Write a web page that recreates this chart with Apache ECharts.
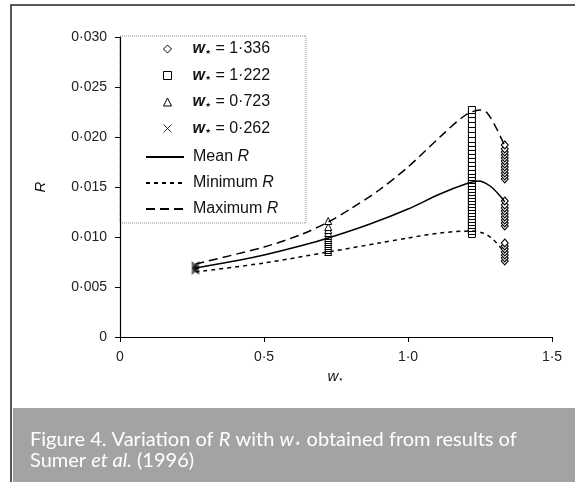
<!DOCTYPE html>
<html><head><meta charset="utf-8">
<script src="https://cdn.jsdelivr.net/npm/echarts@6/dist/echarts.min.js"></script>
<style>html,body{margin:0;padding:0;background:#fff}#c{width:575px;height:482px}</style>
</head><body><div id="c"></div>
<script>
// ---- data ----
const xTicks = [0, 0.5, 1.0, 1.5];
const yTicks = [0, 0.005, 0.010, 0.015, 0.020, 0.025, 0.030];

const wStar = { a: 1.336, b: 1.222, c: 0.723, d: 0.262 };
const r1336 = [0.0076, 0.0079, 0.0082, 0.0085, 0.0088, 0.0091, 0.0094,
               0.0111, 0.0114, 0.0117, 0.0120, 0.0123, 0.0126, 0.0129, 0.0132, 0.0136,
               0.0158, 0.0161, 0.0164, 0.0167, 0.0170, 0.0173, 0.0176, 0.0179, 0.0182, 0.0185, 0.0188, 0.0192];
const r1222 = [0.0103, 0.0106, 0.0109, 0.0112, 0.0115, 0.0118, 0.0121, 0.0124, 0.0127, 0.0130,
               0.0133, 0.0136, 0.0139, 0.0142, 0.0145, 0.0148, 0.0151, 0.0154, 0.0157, 0.0160,
               0.0163, 0.0166, 0.0170, 0.0174, 0.0178, 0.0182, 0.0186, 0.0190, 0.0194, 0.0198,
               0.0203, 0.0208, 0.0213, 0.0218, 0.0223, 0.0227];
const r0723 = [0.0085, 0.0087, 0.0089, 0.0091, 0.0093, 0.0095, 0.0097, 0.0099, 0.0101, 0.0104, 0.0107, 0.0110, 0.0116];
const r0262 = [0.0066, 0.0067, 0.0068, 0.0069, 0.0070, 0.0071, 0.0072];

const meanX = [0.262, 0.417, 0.5, 0.625, 0.723, 0.868, 1.0, 1.111, 1.2, 1.245, 1.285, 1.320, 1.336];
const meanR = [0.0069, 0.0077, 0.0082, 0.0091, 0.0099, 0.0113, 0.0128, 0.0143, 0.0153, 0.0156, 0.0151, 0.0141, 0.0135];
const minX  = [0.262, 0.5, 0.723, 0.9, 1.0, 1.111, 1.222, 1.26, 1.29, 1.32, 1.336];
const minR  = [0.0065, 0.0074, 0.0085, 0.0094, 0.0099, 0.0104, 0.0106, 0.0104, 0.0099, 0.0090, 0.0084];
const maxX  = [0.262, 0.5, 0.625, 0.723, 0.8, 0.9, 1.0, 1.111, 1.2, 1.25, 1.275, 1.31, 1.336];
const maxR  = [0.0073, 0.0090, 0.0102, 0.0115, 0.0128, 0.0147, 0.0170, 0.0200, 0.0222, 0.0227, 0.0224, 0.0207, 0.0191];

const legendLabels = {
  s1336: '{sp|}{w|w}{s|⋆} = 1·336',
  s1222: '{sp|}{w|w}{s|⋆} = 1·222',
  s0723: '{sp|}{w|w}{s|⋆} = 0·723',
  s0262: '{sp|}{w|w}{s|⋆} = 0·262',
  mean: '{sp2|}Mean {i|R}',
  min: '{sp2|}Minimum {i|R}',
  max: '{sp2|}Maximum {i|R}'
};

// ---- chart ----
const fmt = v => v === 0 ? '0' : String(v.toFixed(v < 0.1 ? 3 : 1)).replace('.', '·');
const pts = (x, arr) => arr.map(r => [x, r]);
const zip = (xs, ys) => xs.map((x, i) => [x, ys[i]]);
const FONT = '"Liberation Sans", Arial, sans-serif';

const marker = (name, symbol, size, data) => ({
  name, type: 'scatter', symbol, symbolSize: size, data,
  itemStyle: { color: '#fff', borderColor: '#000', borderWidth: 1, opacity: 1 },
  z: 3
});
const curve = (name, dash, data) => ({
  name, type: 'line', data, smooth: 0.3, symbol: 'none',
  lineStyle: { color: '#000', width: 1.5, type: dash },
  itemStyle: { color: '#000' }, z: 4
});
const legendText = {
  fontFamily: FONT, fontSize: 16, color: '#111',
  rich: { w: { fontWeight: 'bold', fontStyle: 'italic', fontSize: 16, fontFamily: FONT },
          s: { fontWeight: 'bold', fontSize: 10, fontFamily: FONT, verticalAlign: 'bottom' },
          i: { fontStyle: 'italic', fontSize: 16, fontFamily: FONT },
          sp: { width: 16 }, sp2: { width: 4 } }
};
const hidden = { color: 'rgba(0,0,0,0)', borderColor: 'rgba(0,0,0,0)', borderWidth: 0 };

const chart = echarts.init(document.getElementById('c'), null, { renderer: 'canvas' });
chart.setOption({
  animation: false,
  backgroundColor: '#fff',
  grid: { left: 120, right: 23, top: 37, bottom: 145 },
  xAxis: {
    type: 'value', min: 0, max: 1.5, interval: 0.5,
    name: '{i|w}{s|⋆}', nameLocation: 'middle', nameGap: 30,
    nameTextStyle: { fontFamily: FONT, fontSize: 15, color: '#111',
      rich: { i: { fontStyle: 'italic', fontSize: 15, fontFamily: FONT },
              s: { fontSize: 9, fontFamily: FONT, verticalAlign: 'bottom' } } },
    axisLine: { lineStyle: { color: '#000', width: 1.2 } },
    axisTick: { show: true, length: 5, lineStyle: { color: '#000' } },
    axisLabel: { formatter: v => fmt(v), fontFamily: FONT, fontSize: 14, color: '#222', margin: 13 },
    splitLine: { show: false }
  },
  yAxis: {
    type: 'value', min: 0, max: 0.03, interval: 0.005,
    name: 'R', nameLocation: 'middle', nameGap: 72,
    nameTextStyle: { fontFamily: FONT, fontSize: 15, fontStyle: 'italic', color: '#111' },
    axisLine: { show: true, lineStyle: { color: '#000', width: 1.2 } },
    axisTick: { show: true, length: 5, lineStyle: { color: '#000' } },
    axisLabel: { formatter: v => fmt(v), fontFamily: FONT, fontSize: 14, color: '#222', margin: 13 },
    splitLine: { show: false }
  },
  legend: [
    { orient: 'vertical', left: 161, top: 41, padding: 0,
      itemWidth: 8, itemHeight: 8, itemGap: 10.5,
      data: ['s1336', 's1222', 's0723', 's0262'],
      formatter: n => legendLabels[n],
      itemStyle: { borderWidth: 1 },
      textStyle: legendText },
    { orient: 'vertical', left: 145, top: 149, padding: 0,
      itemWidth: 38, itemHeight: 8, itemGap: 10,
      data: [{ name: 'mean', itemStyle: hidden }, { name: 'min', itemStyle: hidden }, { name: 'max', itemStyle: hidden }],
      formatter: n => legendLabels[n],
      textStyle: legendText }
  ],
  series: [
    marker('s1336', 'diamond', [7, 8], pts(wStar.a, r1336)),
    marker('s1222', 'rect', 7, pts(wStar.b, r1222)),
    marker('s0723', 'triangle', 7, pts(wStar.c, r0723)),
    Object.assign(marker('s0262', 'path://M0,0L10,10M10,0L0,10', 7, pts(wStar.d, r0262)),
      { itemStyle: { color: 'none', borderColor: '#000', borderWidth: 1 } }),
    curve('mean', 'solid', zip(meanX, meanR)),
    curve('min', [4, 4], zip(minX, minR)),
    curve('max', [9, 5], zip(maxX, maxR))
  ],
  graphic: [
    { type: 'rect', z: -10, silent: true,
      shape: { x: 11, y: 5, width: 620, height: 520 },
      style: { fill: 'none', stroke: '#222', lineWidth: 1.5 } },
    { type: 'rect', z: -5, silent: true, shape: { x: 120, y: 36, width: 186, height: 187 },
      style: { fill: 'none', stroke: '#888', lineWidth: 1, lineDash: [1, 1] } },
    { type: 'rect', z: -5, silent: true, shape: { x: 13, y: 408, width: 570, height: 80 },
      style: { fill: '#a3a3a3' } },
    { type: 'text', z: 10, silent: true, x: 30, y: 429,
      style: {
        text: 'Figure 4. Variation of {i|R} with {i|w}{st|⋆} obtained from results of\nSumer {i|et al.} (1996)',
        fill: '#fff', font: '20px Lato, "Open Sans", sans-serif', lineHeight: 21,
        rich: { i: { fontStyle: 'italic', fill: '#fff', fontSize: 20, fontFamily: 'Lato, sans-serif' },
                st: { fill: '#fff', fontSize: 12, fontFamily: '"DejaVu Sans", sans-serif', verticalAlign: 'bottom' } }
      } }
  ]
});
</script></body></html>
